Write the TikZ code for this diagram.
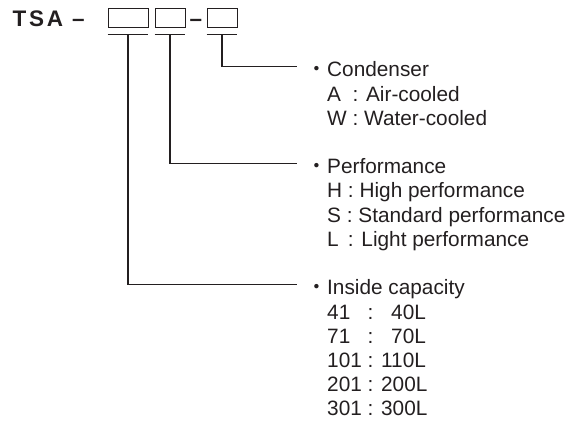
\documentclass[tikz,border=0pt]{standalone}
\usepackage{fontspec}
\setmainfont{Liberation Sans}
\newfontfamily\cjk{Noto Sans CJK JP}
\definecolor{ink}{RGB}{35,31,32}
\begin{document}
\begin{tikzpicture}[x=1pt,y=-1pt,
  every node/.style={inner sep=0pt, text=ink},
  slot/.style={draw=ink, line width=0.8pt, minimum height=19pt, inner sep=0pt},
  rule/.style={draw=ink, line width=1.1pt},
  titlefont/.style={font=\fontsize{22.5}{25}\selectfont\bfseries},
  info/.style={anchor=base west, font=\fontsize{20.8}{24.2}\selectfont}]
\useasboundingbox (0,0) rectangle (580,427);
% model code
\node[anchor=base west, font=\fontsize{22.5}{25}\selectfont\bfseries\addfontfeature{LetterSpace=12}] (tsa) at (12.5,26.5) {TSA –};
\node[slot, minimum width=40pt] (b1) at (128,17.5) {};
\node[slot, minimum width=30pt] (b2) at (170,17.5) {};
\node[titlefont, anchor=base] (dash) at (196,26.5) {–};
\node[slot, minimum width=30pt] (b3) at (222,17.5) {};
% underlines
\draw[rule] ([yshift=-7pt]b1.south west) -- ([yshift=-7pt]b1.south east);
\draw[rule] ([yshift=-7pt]b2.south west) -- ([yshift=-7pt]b2.south east);
\draw[rule] ([yshift=-7pt]b3.south west) -- ([yshift=-7pt]b3.south east);
\coordinate (u1) at ([yshift=-7pt]b1.south);
\coordinate (u2) at ([yshift=-7pt]b2.south);
\coordinate (u3) at ([yshift=-7pt]b3.south);
% connector ends
\coordinate (e3) at (297,66.5);
\coordinate (e2) at (297,163.3);
\coordinate (e1) at (297,284.3);
\draw[rule] (u3) |- (e3);
\draw[rule] (u2) |- (e2);
\draw[rule] (u1) |- (e1);
% text blocks
\node[info] (cond) at (327,77) {\begin{tabular}[t]{@{}l@{}}
\llap{\cjk ・}Condenser\\
\rlap{A}\phantom{W} : Air-cooled\\
W : Water-cooled
\end{tabular}};
\node[info] (perf) at (327,173.8) {\begin{tabular}[t]{@{}l@{}}
\llap{\cjk ・}Performance\\
H : High performance\\
S : Standard performance\\
\rlap{L}\phantom{H} : Light performance
\end{tabular}};
\node[info] (cap) at (327,294.8) {\begin{tabular}[t]{@{}l@{}}
\llap{\cjk ・}Inside capacity\\
\rlap{41}\phantom{101} : \phantom{110L}\llap{40L}\\
\rlap{71}\phantom{101} : \phantom{110L}\llap{70L}\\
101 : 110L\\
201 : 200L\\
301 : 300L
\end{tabular}};
\end{tikzpicture}
\end{document}
